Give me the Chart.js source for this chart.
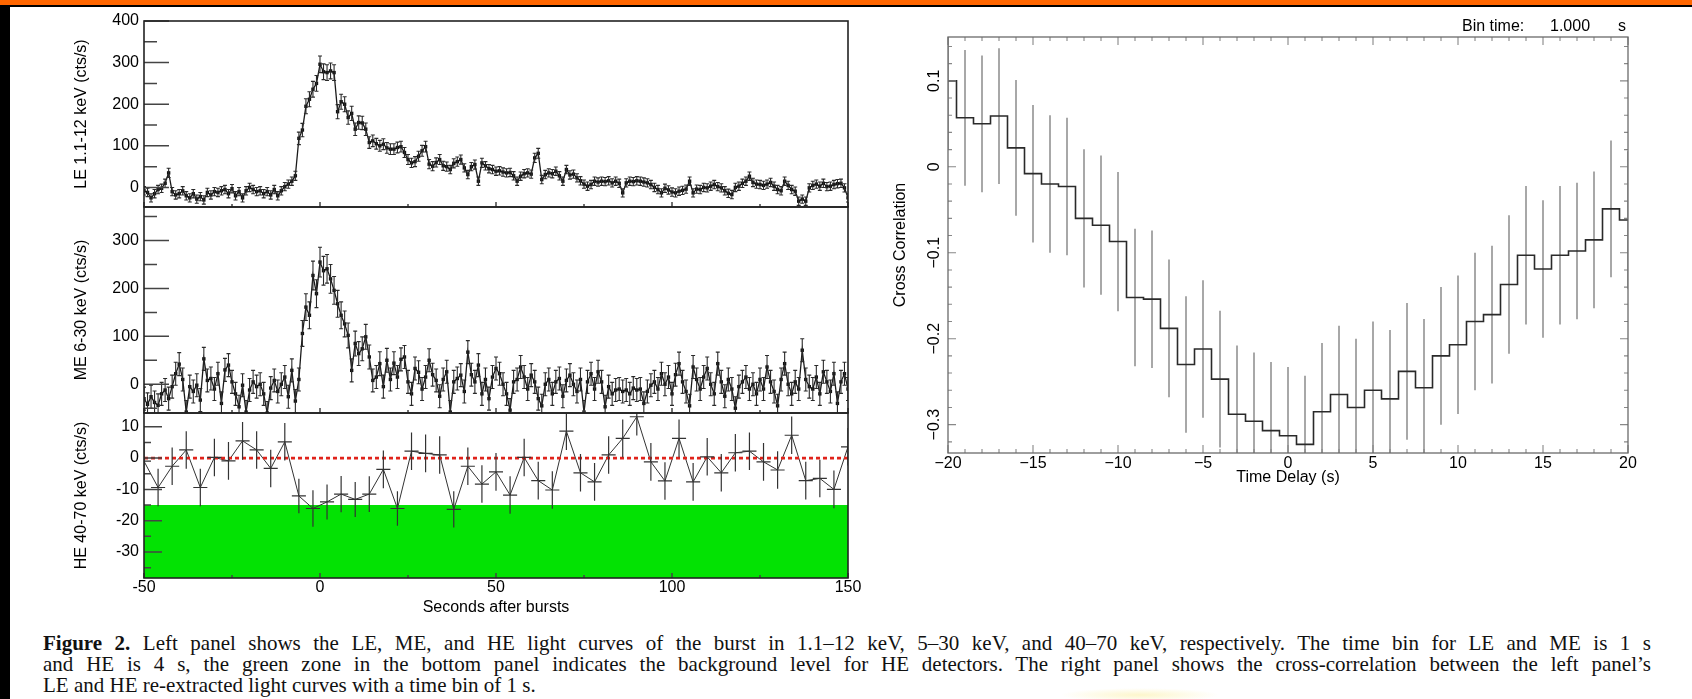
<!DOCTYPE html>
<html lang="en">
<head>
<meta charset="utf-8">
<title>Figure 2 - light curves and cross-correlation</title>
<script src="https://cdn.jsdelivr.net/npm/chart.js@4.4.1/dist/chart.umd.min.js"></script>
<style>
  html, body { margin: 0; padding: 0; background: #fff; }
  #page {
    position: relative; width: 1692px; height: 699px; overflow: hidden;
    background: #fff; font-family: "Liberation Sans", Arial, sans-serif; color: #000;
  }
  .bar-top  { position: absolute; left: 0; top: 0; width: 1692px; height: 5px; background: #ff6600; }
  .bar-line { position: absolute; left: 0; top: 5px; width: 1692px; height: 2px; background: #000; }
  .bar-left { position: absolute; left: 0; top: 5px; width: 10px; height: 694px; background: #000; }
  canvas { position: absolute; }
  .bin { position: absolute; top: 17px; font-size: 16px; line-height: 18px; white-space: nowrap; }
  #caption {
    position: absolute; left: 43px; top: 633px; width: 1608px;
    font-family: "Liberation Serif", "Times New Roman", serif; font-size: 21px; line-height: 21px;
    color: #111;
  }
  .just { text-align: justify; text-align-last: justify; }
  .smudge {
    position: absolute; left: 1060px; top: 688px; width: 160px; height: 14px;
    background: radial-gradient(ellipse at center, rgba(250, 235, 140, 0.45), rgba(255, 255, 255, 0) 70%);
  }
</style>
</head>
<body>
<div id="page">
  <div class="bar-top"></div>
  <div class="bar-line"></div>
  <div class="bar-left"></div>

  <canvas id="cLE"  width="870" height="226" style="left:0;top:1px"></canvas>
  <canvas id="cME"  width="870" height="246" style="left:0;top:187px"></canvas>
  <canvas id="cHE"  width="870" height="235" style="left:0;top:393px"></canvas>
  <canvas id="cCCF" width="832" height="500" style="left:860px;top:0"></canvas>

  <span class="bin" style="left:1462px">Bin time:</span>
  <span class="bin" style="left:1550px">1.000</span>
  <span class="bin" style="left:1618px">s</span>

  <div id="caption">
    <div class="just"><b>Figure 2.</b> Left panel shows the LE, ME, and HE light curves of the burst in 1.1–12 keV, 5–30 keV, and 40–70 keV, respectively. The time bin for LE and ME is 1 s</div>
    <div class="just">and HE is 4 s, the green zone in the bottom panel indicates the background level for HE detectors. The right panel shows the cross-correlation between the left panel’s</div>
    <div>LE and HE re-extracted light curves with a time bin of 1 s.</div>
  </div>
  <div class="smudge"></div>
</div>

<script>
// ---------- data ----------

// LE / ME: 1 s bins starting at -50 s
const LC_START = -50;
const LC_BIN = 1;

const LE_RATE = [
  -8, -12, -25, -15, -5, -2, 10, 35, -10, -18,        // -50
  -15, -8, -20, -25, -15, -28, -22, -30, -12, -18,    // -40
  -10, -12, -8, -5, -15, -3, -20, -10, -25, -8,       // -30
  0, -5, -10, -8, -15, -10, -18, -5, -20, -8,         // -20
  2, 8, 15, 28, 118, 138, 195, 212, 236, 250,         // -10
  296, 278, 276, 280, 276, 182, 206, 200, 168, 178,   // 0
  140, 156, 155, 140, 108, 112, 105, 100, 104, 95,    // 10
  92, 92, 96, 98, 84, 67, 59, 62, 75, 88,             // 20
  98, 56, 51, 60, 67, 52, 50, 43, 58, 62,             // 30
  67, 47, 31, 50, 55, 15, 59, 52, 45, 43,             // 40
  39, 40, 37, 35, 36, 28, 15, 27, 33, 35,             // 50
  32, 71, 82, 19, 31, 35, 33, 39, 28, 15,             // 60
  43, 30, 32, 23, 16, 8, 3, 7, 15, 13,                // 70
  15, 14, 16, 11, 15, 10, -13, 11, 15, 14,            // 80
  16, 15, 13, 11, 7, 0, -5, -13, -2, -6,              // 90
  -11, -13, -9, -7, -4, 15, -13, -4, -5, 0,           // 100
  -1, 3, 7, 2, -1, -8, -14, -17, 0, 3,                // 110
  10, 15, 27, 12, 8, 7, 5, 8, 12, 3,                  // 120
  -5, -8, 15, 5, -5, -9, -33, -28, -33, -1,           // 130
  5, 8, 3, 10, 2, 3, 7, 9, 10, -1,                    // 140
  -25                                                 // 150
];

const LE_ERR = [
  10, 10, 10, 10, 10, 10, 10, 11, 10, 10,
  10, 10, 10, 10, 10, 10, 10, 10, 10, 10,
  10, 10, 10, 10, 10, 10, 10, 10, 10, 10,
  10, 10, 10, 10, 10, 10, 10, 10, 10, 10,
  10, 10, 10, 11, 15, 16, 18, 18, 19, 19,
  20, 19, 19, 19, 19, 17, 18, 18, 16, 17,
  15, 16, 16, 15, 14, 14, 13, 13, 13, 13,
  13, 13, 13, 13, 12, 12, 11, 12, 12, 13,
  13, 11, 11, 11, 12, 11, 11, 10, 11, 11,
  11, 10, 10, 10, 11, 10, 11, 10, 10, 10,
  10, 10, 10, 10, 10, 10, 10, 10, 10, 10,
  10, 11, 12, 10, 10, 10, 10, 10, 10, 10,
  10, 10, 10, 10, 10, 10, 10, 10, 10, 10,
  10, 10, 10, 10, 10, 10, 10, 10, 10, 10,
  10, 10, 10, 10, 10, 10, 10, 10, 10, 10,
  10, 10, 10, 10, 10, 10, 10, 10, 10, 10,
  10, 10, 10, 10, 10, 10, 10, 10, 10, 10,
  10, 10, 10, 10, 10, 10, 10, 10, 10, 10,
  10, 10, 10, 10, 10, 10, 10, 10, 10, 10,
  10, 10, 10, 10, 10, 10, 10, 10, 10, 10,
  10
];

const ME_RATE = [
  -30, -42, -26, -38, -44, -20, -12, -30, -5, 22,     // -50
  42, 10, -58, -5, -15, -2, -33, 53, 8, 12,           // -40
  -10, 22, -40, 30, 40, 5, -20, -47, -2, -58,         // -30
  -12, 5, -5, 0, -20, -60, -8, 8, -15, 0,             // -20
  15, -26, 29, -35, 10, 106, 161, 144, 227, 189,      // -10
  255, 237, 241, 220, 196, 168, 144, 126, 102, 29,    // 0
  85, 64, 74, 99, 57, 8, 15, 43, -5, 50,              // 10
  10, 44, 15, 52, 57, 5, -20, 33, 25, -10,            // 20
  15, 50, 20, 8, -25, 10, 26, -58, 5, 12,             // 30
  19, -15, 67, 20, 5, 40, -20, 10, -30, 15,           // 40
  33, 22, 0, -20, -54, 5, 10, 36, 15, -10,            // 50
  19, 5, -30, -45, 0, 10, -20, 5, 12, -25,            // 60
  8, 19, 0, -15, 10, -58, 5, 22, -10, 26,             // 70
  5, -47, -5, -20, -12, -10, -15, -12, -20, -8,       // 80
  -12, -10, -40, -15, -2, 5, -10, 22, 0, 15,          // 90
  -20, 20, 43, 5, -15, -45, 36, 10, -10, 15,          // 100
  33, 0, -20, 43, 5, -25, 10, -10, -50, -5,           // 110
  5, 15, -10, 0, -20, 10, -10, 36, 5, -15,            // 120
  -45, 10, 43, 0, -20, 5, -10, 71, 10, -5,            // 130
  -10, 15, -20, 26, 5, -15, 22, -40, 5, 22,           // 140
  -10                                                 // 150
];

const ME_ERR = [
  24, 24, 24, 24, 24, 24, 24, 24, 24, 24,
  24, 24, 24, 24, 24, 24, 24, 24, 24, 24,
  24, 24, 24, 24, 24, 24, 24, 24, 24, 24,
  24, 24, 24, 24, 24, 24, 24, 24, 24, 24,
  24, 24, 24, 24, 24, 27, 28, 28, 30, 29,
  31, 30, 30, 30, 29, 28, 28, 27, 26, 24,
  26, 25, 25, 26, 25, 24, 24, 25, 24, 25,
  24, 24, 24, 24, 24, 24, 24, 24, 24, 24,
  24, 24, 24, 24, 24, 24, 24, 24, 24, 24,
  24, 24, 24, 24, 24, 24, 24, 24, 24, 24,
  24, 24, 24, 24, 24, 24, 24, 24, 24, 24,
  24, 24, 24, 24, 24, 24, 24, 24, 24, 24,
  24, 24, 24, 24, 24, 24, 24, 24, 24, 24,
  24, 24, 24, 24, 24, 24, 24, 24, 24, 24,
  24, 24, 24, 24, 24, 24, 24, 24, 24, 24,
  24, 24, 24, 24, 24, 24, 24, 24, 24, 24,
  24, 24, 24, 24, 24, 24, 24, 24, 24, 24,
  24, 24, 24, 24, 24, 24, 24, 24, 24, 24,
  24, 24, 24, 24, 24, 24, 24, 24, 24, 24,
  24, 24, 24, 24, 24, 24, 24, 24, 24, 24,
  24
];

// HE: 4 s bins centred from -50 s
const HE_START = -50;
const HE_BIN = 4;

const HE_RATE = [
  -1, -9.4, -2.6, 2.6, -9.4, 0.2, -0.9, 5.5, 2.6, -3.3,         // -50 .. -14
  5.2, -12.1, -16.1, -14.0, -11.5, -13.2, -11.5, -3.6, -16.1, 2.2, // -10 .. 26
  1.5, 1.0, -16.4, -2.6, -8.3, -4.4, -11.8, 0.2, -7.2, -10.2,   // 30 .. 66
  8.6, -4.7, -7.6, 1.0, 6.3, 13.2, -1.2, -7.3, 6.3, -7.6,       // 70 .. 106
  0.4, -4.7, 1.7, 2.2, -1.2, -3.8, 7.3, -7.2, -6.5, -10.0,      // 110 .. 146
  3.6                                                          // 150
];

const HE_ERR = [
  6, 6, 6, 6, 6, 6, 6, 6, 6, 6,
  6, 5.5, 5.8, 5.6, 5.8, 5.6, 5.7, 6, 5.5, 6,
  6, 6, 5.8, 6, 6, 6, 6, 6, 6, 6,
  6, 6, 6, 6, 6, 6, 6, 6, 6, 6,
  6, 6, 6, 6, 6, 6, 6, 6, 6, 6,
  6
];

// HE background zone (green) and zero reference (red dashed)
const HE_BKG_TIME = [-50, 150];
const HE_BKG_TOP = [-15, -15];
const HE_ZERO_TIME = [-50, 150];
const HE_ZERO = [0, 0];

// cross-correlation, 1 s lags from -20 s
const LAG_START = -20;
const LAG_STEP = 1;

const CCF = [
  0.100, 0.057, 0.050, 0.059, 0.022, -0.008, -0.020, -0.023, -0.060, -0.068,   // -20
  -0.087, -0.152, -0.154, -0.188, -0.230, -0.212, -0.247, -0.288, -0.296, -0.307, // -10
  -0.313, -0.323, -0.285, -0.265, -0.280, -0.260, -0.270, -0.238, -0.257, -0.220, // 0
  -0.207, -0.180, -0.172, -0.137, -0.103, -0.119, -0.103, -0.098, -0.085, -0.049, // 10
  -0.062                                                                      // 20
];

const CCF_ERR = [
  0.080, 0.079, 0.0795, 0.079, 0.079, 0.080, 0.080, 0.080, 0.0805, 0.081,
  0.081, 0.080, 0.080, 0.080, 0.0795, 0.080, 0.0795, 0.080, 0.080, 0.080,
  0.080, 0.080, 0.080, 0.080, 0.080, 0.080, 0.080, 0.0795, 0.080, 0.080,
  0.0805, 0.080, 0.080, 0.0805, 0.0805, 0.080, 0.0805, 0.0795, 0.0795, 0.0795,
  0.080
];

// tick labels
const TIME_TICKS = [-50, 0, 50, 100, 150];
const LE_TICKS = [0, 100, 200, 300, 400];
const ME_TICKS = [0, 100, 200, 300];
const HE_TICKS = [-30, -20, -10, 0, 10];
const LAG_TICKS = [-20, -15, -10, -5, 0, 5, 10, 15, 20];
const CCF_TICKS = [-0.3, -0.2, -0.1, 0, 0.1];

// ---------- helpers ----------

Chart.defaults.font.family = '"Liberation Sans", Arial, sans-serif';
Chart.defaults.font.size = 16;
Chart.defaults.color = '#000';

function toPoints(start, step, values) {
  return values.map((v, i) => ({ x: start + i * step, y: v }));
}

function pairPoints(xs, ys) {
  return xs.map((x, i) => ({ x, y: ys[i] }));
}

function fixedTicks(list) {
  return (scale) => { scale.ticks = list.map(value => ({ value })); };
}

function minusSign(v) {
  const n = +(+v).toFixed(3);
  return n < 0 ? '\u2212' + Math.abs(n) : String(n);
}

function stepValues(min, max, step) {
  const out = [];
  for (let k = Math.ceil(min / step - 1e-9); k * step <= max + 1e-9; k++) out.push(k * step);
  return out;
}

// no grid, no outer tick marks (the frame plugin draws inward ticks)
const NO_GRID = { display: false, drawTicks: false };

/* error bars: dataset.errorBars = { y: [...], x: halfWidth, cap: px, color, width, under } */
function drawErrorBars(chart, under) {
  const { ctx, chartArea: a, scales: { x, y } } = chart;
  ctx.save();
  ctx.beginPath();
  ctx.rect(a.left, a.top, a.width, a.height);
  ctx.clip();
  chart.data.datasets.forEach(ds => {
    const eb = ds.errorBars;
    if (!eb || !!eb.under !== under) return;
    ctx.strokeStyle = eb.color;
    ctx.lineWidth = eb.width;
    ctx.beginPath();
    ds.data.forEach((p, i) => {
      const px = x.getPixelForValue(p.x);
      const hi = y.getPixelForValue(p.y + eb.y[i]);
      const lo = y.getPixelForValue(p.y - eb.y[i]);
      ctx.moveTo(px, hi);
      ctx.lineTo(px, lo);
      if (eb.cap) {
        ctx.moveTo(px - eb.cap, hi); ctx.lineTo(px + eb.cap, hi);
        ctx.moveTo(px - eb.cap, lo); ctx.lineTo(px + eb.cap, lo);
      }
      if (eb.x) {
        const py = y.getPixelForValue(p.y);
        ctx.moveTo(x.getPixelForValue(p.x - eb.x), py);
        ctx.lineTo(x.getPixelForValue(p.x + eb.x), py);
      }
    });
    ctx.stroke();
  });
  ctx.restore();
}

const errorBarPlugin = {
  id: 'errorBars',
  beforeDatasetsDraw(chart) { drawErrorBars(chart, true); },
  afterDatasetsDraw(chart) { drawErrorBars(chart, false); }
};

/* box around the plot with inward tick marks */
const framePlugin = {
  id: 'frame',
  afterDraw(chart, args, opts) {
    const { ctx, chartArea: a } = chart;
    ctx.save();
    ctx.strokeStyle = opts.tickColor;
    ctx.lineWidth = opts.tickWidth;
    ctx.beginPath();
    (opts.ticks || []).forEach(t => {
      const scale = chart.scales[t.axis];
      stepValues(scale.min, scale.max, t.step).forEach(v => {
        const p = scale.getPixelForValue(v);
        t.sides.forEach(side => {
          if (side === 'left') { ctx.moveTo(a.left, p); ctx.lineTo(a.left + t.len, p); }
          if (side === 'right') { ctx.moveTo(a.right, p); ctx.lineTo(a.right - t.len, p); }
          if (side === 'bottom') { ctx.moveTo(p, a.bottom); ctx.lineTo(p, a.bottom - t.len); }
          if (side === 'top') { ctx.moveTo(p, a.top); ctx.lineTo(p, a.top + t.len); }
        });
      });
    });
    ctx.stroke();
    ctx.strokeStyle = opts.color;
    ctx.lineWidth = opts.width;
    ctx.strokeRect(a.left, a.top, a.width, a.height);
    ctx.restore();
  }
};

/* ============================
        LEFT PANEL
============================ */
const LEFT_AXIS_WIDTH = 144;
const LEFT_PADDING = { left: 0, right: 22, top: 20, bottom: 20 };

function lightCurveDataset(points, err) {
  return {
    data: points,
    borderColor: '#1a1a1a',
    borderWidth: 1.3,
    pointStyle: 'rect',
    pointRadius: 2.4,
    pointBackgroundColor: '#111',
    pointBorderWidth: 0,
    tension: 0,
    errorBars: { y: err, cap: 2, color: '#2a2a2a', width: 1.1 }
  };
}

function leftYAxis(min, max, ticks, title) {
  return {
    type: 'linear',
    min, max,
    afterBuildTicks: fixedTicks(ticks),
    afterFit: (s) => { s.width = LEFT_AXIS_WIDTH; },
    grid: NO_GRID,
    border: { display: false },
    ticks: { padding: 5, autoSkip: false },
    title: { display: true, text: title, padding: { top: 72, bottom: 0 } }
  };
}

function leftFrame(yMajor, yMinor, majorLen, minorLen) {
  return {
    color: '#222', width: 1.6, tickColor: '#444', tickWidth: 1.5,
    ticks: [
      { axis: 'y', step: yMajor, len: majorLen, sides: ['left'] },
      { axis: 'y', step: yMinor, len: minorLen, sides: ['left'] },
      { axis: 'x', step: 50, len: 5, sides: ['bottom'] },
      { axis: 'x', step: 25, len: 3, sides: ['bottom'] }
    ]
  };
}

function baseOptions(padding, frame) {
  return {
    responsive: false,
    animation: false,
    events: [],
    layout: { padding },
    plugins: {
      legend: { display: false },
      tooltip: { enabled: false },
      frame
    }
  };
}

function initLE() {
  const opts = baseOptions(LEFT_PADDING, leftFrame(100, 50, 25, 13));
  opts.scales = {
    x: { type: 'linear', min: -50, max: 150, display: false },
    y: leftYAxis(-47, 400, LE_TICKS, 'LE 1.1-12 keV (cts/s)')
  };
  return new Chart(document.getElementById('cLE'), {
    type: 'line',
    data: { datasets: [lightCurveDataset(toPoints(LC_START, LC_BIN, LE_RATE), LE_ERR)] },
    options: opts,
    plugins: [errorBarPlugin, framePlugin]
  });
}

function initME() {
  const opts = baseOptions(LEFT_PADDING, leftFrame(100, 50, 25, 13));
  opts.scales = {
    x: { type: 'linear', min: -50, max: 150, display: false },
    y: leftYAxis(-60, 370, ME_TICKS, 'ME 6-30 keV (cts/s)')
  };
  return new Chart(document.getElementById('cME'), {
    type: 'line',
    data: { datasets: [lightCurveDataset(toPoints(LC_START, LC_BIN, ME_RATE), ME_ERR)] },
    options: opts,
    plugins: [errorBarPlugin, framePlugin]
  });
}

function initHE() {
  const opts = baseOptions({ left: 0, right: 22, top: 20, bottom: 5 }, leftFrame(10, 5, 18, 7));
  opts.scales = {
    x: {
      type: 'linear', min: -50, max: 150,
      afterBuildTicks: fixedTicks(TIME_TICKS),
      afterFit: (s) => { s.height = 45; },
      grid: NO_GRID,
      border: { display: false },
      ticks: { padding: 0, autoSkip: false, maxRotation: 0 },
      title: { display: true, text: 'Seconds after bursts', padding: { top: 0, bottom: 6 } }
    },
    y: leftYAxis(-38.3, 14.4, HE_TICKS, 'HE 40-70 keV (cts/s)')
  };
  const datasets = [
    {
      // background zone
      data: pairPoints(HE_BKG_TIME, HE_BKG_TOP),
      borderWidth: 0,
      pointRadius: 0,
      fill: 'start',
      backgroundColor: '#03e203',
      order: 3
    },
    {
      data: toPoints(HE_START, HE_BIN, HE_RATE),
      borderColor: '#333',
      borderWidth: 1,
      pointRadius: 0,
      tension: 0,
      order: 2,
      errorBars: { y: HE_ERR, x: HE_BIN / 2, color: '#333', width: 1.2 }
    },
    {
      data: pairPoints(HE_ZERO_TIME, HE_ZERO),
      borderColor: '#e0231b',
      borderWidth: 2.6,
      borderDash: [4, 3],
      pointRadius: 0,
      order: 1
    }
  ];
  return new Chart(document.getElementById('cHE'), {
    type: 'line',
    data: { datasets },
    options: opts,
    plugins: [errorBarPlugin, framePlugin]
  });
}

/* ============================
        RIGHT PANEL
============================ */
function initCCF() {
  const frame = {
    color: '#6a6a6a', width: 1.3, tickColor: '#888', tickWidth: 1.1,
    ticks: [
      { axis: 'x', step: 5, len: 8, sides: ['bottom', 'top'] },
      { axis: 'x', step: 1, len: 4, sides: ['bottom', 'top'] },
      { axis: 'y', step: 0.1, len: 8, sides: ['left', 'right'] },
      { axis: 'y', step: 0.02, len: 4, sides: ['left', 'right'] }
    ]
  };
  const opts = baseOptions({ left: 0, right: 64, top: 37, bottom: 7 }, frame);
  opts.scales = {
    x: {
      type: 'linear', min: -20, max: 20,
      afterBuildTicks: fixedTicks(LAG_TICKS),
      afterFit: (s) => { s.height = 40; },
      grid: NO_GRID,
      border: { display: false },
      ticks: { padding: 1, autoSkip: false, maxRotation: 0, callback: minusSign },
      title: { display: true, text: 'Time Delay (s)', padding: { top: 0, bottom: 6 } }
    },
    y: {
      type: 'linear', min: -0.333, max: 0.151,
      afterBuildTicks: fixedTicks(CCF_TICKS),
      afterFit: (s) => { s.width = 88; },
      grid: NO_GRID,
      border: { display: false },
      ticks: { padding: -2, autoSkip: false, minRotation: 90, maxRotation: 90, crossAlign: 'center', callback: minusSign },
      title: { display: true, text: 'Cross Correlation', padding: { top: 31, bottom: 0 } }
    }
  };
  return new Chart(document.getElementById('cCCF'), {
    type: 'line',
    data: {
      datasets: [{
        data: toPoints(LAG_START, LAG_STEP, CCF),
        stepped: 'middle',
        borderColor: '#2a2a2a',
        borderWidth: 1.6,
        pointRadius: 0,
        errorBars: { y: CCF_ERR, color: '#8c8c8c', width: 1.5, under: true }
      }]
    },
    options: opts,
    plugins: [errorBarPlugin, framePlugin]
  });
}

initLE();
initME();
initHE();
initCCF();
</script>
</body>
</html>
